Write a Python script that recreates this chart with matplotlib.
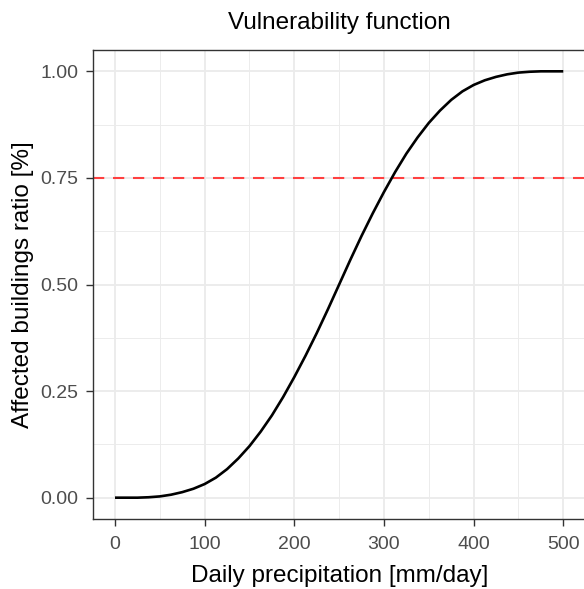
import matplotlib
matplotlib.use('Agg')
import matplotlib.pyplot as plt

# --- Data ---

precip = [0, 12.5, 25, 37.5, 50, 62.5, 75, 87.5, 100, 112.5, 125, 137.5, 150,
          162.5, 175, 187.5, 200, 212.5, 225, 237.5, 250, 262.5, 275, 287.5,
          300, 312.5, 325, 337.5, 350, 362.5, 375, 387.5, 400, 412.5, 425,
          437.5, 450, 462.5, 475, 487.5, 500]
ratio = [0, 0, 0, 0.001, 0.003, 0.007, 0.013, 0.021, 0.032, 0.047, 0.067,
         0.092, 0.121, 0.155, 0.193, 0.236, 0.283, 0.333, 0.386, 0.442, 0.5,
         0.558, 0.614, 0.667, 0.717, 0.764, 0.807, 0.845, 0.879, 0.908, 0.933,
         0.953, 0.968, 0.979, 0.987, 0.993, 0.997, 0.999, 1.0, 1.0, 1.0]
threshold = 0.75

x_ticks = [0, 100, 200, 300, 400, 500]
x_minor = [50, 150, 250, 350, 450]
y_ticks = [0.0, 0.25, 0.5, 0.75, 1.0]
y_tick_labels = ['0.00', '0.25', '0.50', '0.75', '1.00']
y_minor = [0.125, 0.375, 0.625, 0.875]

W, H = 584, 589
plt.rcParams['font.family'] = ['Liberation Sans', 'DejaVu Sans']

fig = plt.figure(figsize=(W / 100, H / 100), dpi=100)
fig.patch.set_facecolor('white')

# panel spans px 92.6..585.7 horizontally (cropped on the right), 50..519 vertically
left, right, top, bottom = 92.6, 585.7, 50, 519
ax = fig.add_axes([left / W, 1 - bottom / H, (right - left) / W, (bottom - top) / H])

ax.set_xlim(-25, 525)
ax.set_ylim(-0.05, 1.05)

ax.set_xticks(x_ticks)
ax.set_xticks(x_minor, minor=True)
ax.set_yticks(y_ticks)
ax.set_yticklabels(y_tick_labels)
ax.set_yticks(y_minor, minor=True)

ax.grid(which='major', color='#EBEBEB', linewidth=1.3)
ax.grid(which='minor', color='#EBEBEB', linewidth=0.65)
ax.set_axisbelow(True)

ax.tick_params(which='major', length=5, width=1.0, color='#333333',
               labelcolor='#4D4D4D', labelsize=14, pad=5)
ax.tick_params(axis='x', which='major', pad=7)
ax.tick_params(which='minor', length=0)
for s in ax.spines.values():
    s.set_color('#333333')
    s.set_linewidth(1.0)

ax.axhline(threshold, color='#FF4040', linewidth=1.5, linestyle=(0, (5.4, 4.2)))
ax.plot(precip, ratio, color='black', linewidth=1.9, solid_capstyle='butt')

fig.text(339.3 / W, 1 - 29 / H, 'Vulnerability function', ha='center',
         va='baseline', fontsize=17.5)
fig.text(339.3 / W, 1 - 582 / H, 'Daily precipitation [mm/day]', ha='center',
         va='baseline', fontsize=17.5)
fig.text(23 / W, 1 - (top + bottom) / 2 / H, 'Affected buildings ratio [%]',
         ha='center', va='center', rotation=90, fontsize=17.5)

fig.savefig('out.png', dpi=100, facecolor='white')
